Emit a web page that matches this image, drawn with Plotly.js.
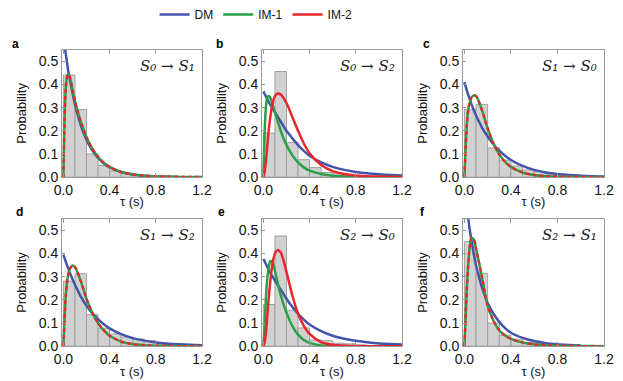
<!DOCTYPE html>
<html><head><meta charset="utf-8">
<script src="https://cdn.plot.ly/plotly-3.0.1.min.js"></script>
<style>html,body{margin:0;padding:0;background:#fff}#chart{width:623px;height:381px}</style>
</head><body><div id="chart"></div>
<script>
// time grid (s) for fitted curves
const tGrid = [0, 0.01, 0.02, 0.03, 0.04, 0.05, 0.06, 0.08, 0.1, 0.12, 0.15, 0.2, 0.25, 0.3, 0.35, 0.4, 0.5, 0.6, 0.7, 0.8, 0.9, 1.0, 1.1, 1.2];
// histogram bin centres (bin width 0.1 s)
const binCenters = [0.05, 0.15, 0.25, 0.35, 0.45, 0.55, 0.65, 0.75, 0.85, 0.95, 1.05, 1.15];
const xTicks = [0, 0.4, 0.8, 1.2];

// panel a: S0 -> S1
const histA = [0.441, 0.292, 0.10, 0.05, 0.027, 0.017, 0.01, 0.006, 0.004, 0.003, 0.002, 0.001];
const dmA = [0.61, 0.57, 0.535, 0.50, 0.465, 0.437, 0.41, 0.36, 0.313, 0.275, 0.225, 0.161, 0.116, 0.083, 0.059, 0.042, 0.022, 0.011, 0.006, 0.003, 0.0015, 0.0008, null, null];
const imA = [0, 0.25, 0.38, 0.43, 0.443, 0.44, 0.425, 0.375, 0.33, 0.29, 0.24, 0.172, 0.123, 0.087, 0.062, 0.044, 0.022, 0.011, 0.006, 0.003, 0.0015, 0.0008, 0.0004, 0.0002];

// panel b: S0 -> S2
const histB = [0.19, 0.456, 0.15, 0.075, 0.041, 0.02, 0.014, 0.008, 0.005, 0.003, 0.002, 0.001];
const dmB = [0.37, 0.36, 0.35, 0.34, 0.33, 0.32, 0.312, 0.295, 0.28, 0.264, 0.24, 0.20, 0.168, 0.138, 0.113, 0.092, 0.063, 0.044, 0.031, 0.022, 0.016, 0.012, 0.009, 0.007];
const im1B = [0, 0.18, 0.29, 0.335, 0.349, 0.35, 0.342, 0.312, 0.28, 0.248, 0.2, 0.138, 0.095, 0.063, 0.042, 0.028, 0.013, 0.006, 0.003, 0.0015, 0.0007, 0.0003, 0.0001, 0];
const im2B = [0, 0.02, 0.06, 0.11, 0.17, 0.22, 0.26, 0.32, 0.35, 0.36, 0.357, 0.32, 0.26, 0.2, 0.145, 0.103, 0.052, 0.026, 0.013, 0.007, 0.0035, 0.002, 0.001, 0.0005];

// panel c: S1 -> S0
const histC = [0.293, 0.314, 0.126, 0.073, 0.048, 0.031, 0.024, 0.013, 0.008, 0.005, 0.003, 0.002];
const dmC = [0.41, 0.393, 0.376, 0.36, 0.345, 0.33, 0.316, 0.29, 0.266, 0.245, 0.215, 0.175, 0.141, 0.114, 0.092, 0.074, 0.048, 0.031, 0.02, 0.013, 0.009, 0.006, 0.004, 0.003];
const imC = [0, 0.12, 0.22, 0.28, 0.31, 0.33, 0.343, 0.353, 0.35, 0.332, 0.29, 0.21, 0.145, 0.098, 0.066, 0.044, 0.02, 0.009, 0.004, 0.002, 0.001, 0.0005, 0.0002, 0.0001];

// panel d: S1 -> S2
const histD = [0.281, 0.313, 0.136, 0.077, 0.053, 0.039, 0.031, 0.024, 0.015, 0.01, 0.006, 0.004];
const dmD = [0.395, 0.38, 0.366, 0.352, 0.338, 0.325, 0.312, 0.288, 0.265, 0.245, 0.215, 0.175, 0.143, 0.117, 0.095, 0.077, 0.052, 0.035, 0.024, 0.016, 0.011, 0.008, 0.006, 0.004];
const imD = [0, 0.12, 0.215, 0.27, 0.305, 0.325, 0.338, 0.348, 0.342, 0.322, 0.282, 0.205, 0.145, 0.1, 0.068, 0.045, 0.02, 0.009, 0.004, 0.002, 0.001, 0.0005, 0.0002, 0.0001];

// panel e: S2 -> S0
const histE = [0.18, 0.476, 0.155, 0.079, 0.027, 0.024, 0.013, 0.01, 0.005, 0.003, 0.002, 0.001];
const dmE = [0.377, 0.367, 0.357, 0.346, 0.336, 0.326, 0.317, 0.30, 0.283, 0.267, 0.245, 0.205, 0.17, 0.14, 0.115, 0.094, 0.065, 0.045, 0.032, 0.023, 0.017, 0.012, 0.009, 0.007];
const im1E = [0, 0.08, 0.19, 0.27, 0.32, 0.352, 0.368, 0.362, 0.325, 0.282, 0.22, 0.145, 0.088, 0.05, 0.027, 0.014, 0.003, 0.001, 0.0003, 0.0001, 0, 0, 0, 0];
const im2E = [0, 0.015, 0.05, 0.105, 0.17, 0.23, 0.28, 0.36, 0.40, 0.415, 0.405, 0.32, 0.22, 0.14, 0.088, 0.053, 0.018, 0.006, 0.002, 0.001, 0, 0, 0, 0];

// panel f: S2 -> S1
const histF = [0.452, 0.315, 0.10, 0.047, 0.03, 0.017, 0.01, 0.006, 0.004, 0.003, 0.002, 0.001];
const dmF = [0.68, 0.64, 0.60, 0.562, 0.525, 0.49, 0.46, 0.40, 0.35, 0.31, 0.255, 0.186, 0.14, 0.105, 0.078, 0.058, 0.036, 0.022, 0.013, 0.008, 0.005, 0.003, null, null];
const imF = [0, 0.12, 0.24, 0.33, 0.40, 0.445, 0.467, 0.462, 0.42, 0.375, 0.30, 0.175, 0.11, 0.068, 0.046, 0.032, 0.016, 0.008, 0.004, 0.002, 0.001, 0.0006, 0.0003, 0.0001];

const panelLetters = ['a', 'b', 'c', 'd', 'e', 'f'];
const transitionLabels = ['S₀ → S₁', 'S₀ → S₂', 'S₁ → S₀', 'S₁ → S₂', 'S₂ → S₀', 'S₂ → S₁'];

const panels = [
  {hist: histA, dm: dmA, im1: imA, im2: imA, same: true},
  {hist: histB, dm: dmB, im1: im1B, im2: im2B, same: false},
  {hist: histC, dm: dmC, im1: imC, im2: imC, same: true},
  {hist: histD, dm: dmD, im1: imD, im2: imD, same: true},
  {hist: histE, dm: dmE, im1: im1E, im2: im2E, same: false},
  {hist: histF, dm: dmF, im1: imF, im2: imF, same: true}
];

const W = 623, H = 381;
const colPx = [[62, 202], [262, 402], [463, 604]];
const rowPx = [[48, 176], [218, 346]];
const letterPx = [[15, 42], [219, 42], [426, 42], [19, 211], [221, 211], [423, 211]];
const legendPanel = 1; // a panel whose IM-2 line is solid

const C_DM = '#4454aa', C_IM1 = '#29a047', C_IM2 = '#e8262b';
const tickFont = {family: 'Liberation Sans, Arial, sans-serif', size: 14, color: '#111'};
const titleFont = {family: 'Liberation Sans, Arial, sans-serif', size: 13, color: '#111'};

const traces = [];
const layout = {
  width: W, height: H,
  margin: {l: 0, r: 0, t: 0, b: 0},
  paper_bgcolor: '#fff', plot_bgcolor: '#fff',
  showlegend: true,
  legend: {orientation: 'h', x: 0.411, xanchor: 'center', y: 1.005, yanchor: 'top',
           font: {family: 'Liberation Sans, Arial, sans-serif', size: 12, color: '#111'},
           bgcolor: 'rgba(0,0,0,0)'},
  annotations: [],
  bargap: 0
};

panels.forEach((p, i) => {
  const n = i + 1;
  const xa = n === 1 ? 'x' : 'x' + n;
  const ya = n === 1 ? 'y' : 'y' + n;
  const col = i % 3, row = Math.floor(i / 3);
  const cp = colPx[col], rp = rowPx[row];
  const inLegend = i === legendPanel;

  traces.push({type: 'bar', x: binCenters, y: p.hist, width: 0.1, xaxis: xa, yaxis: ya,
    marker: {color: '#d1d1d1', line: {color: '#a0a0a0', width: 1}}, showlegend: false, hoverinfo: 'skip'});
  traces.push({type: 'scatter', mode: 'lines', x: tGrid, y: p.dm, xaxis: xa, yaxis: ya, name: 'DM',
    line: {color: C_DM, width: 2.5, shape: 'spline', smoothing: 0.8}, showlegend: inLegend});
  traces.push({type: 'scatter', mode: 'lines', x: tGrid, y: p.im1, xaxis: xa, yaxis: ya, name: 'IM-1',
    line: {color: C_IM1, width: 2.5, shape: 'spline', smoothing: 0.8}, showlegend: inLegend});
  traces.push({type: 'scatter', mode: 'lines', x: tGrid, y: p.im2, xaxis: xa, yaxis: ya, name: 'IM-2',
    line: {color: C_IM2, width: p.same ? 2.3 : 2.5, shape: 'spline', smoothing: 0.8, dash: p.same ? '4px,3px' : 'solid'},
    showlegend: inLegend});

  const xKey = n === 1 ? 'xaxis' : 'xaxis' + n;
  const yKey = n === 1 ? 'yaxis' : 'yaxis' + n;
  layout[xKey] = {
    domain: [cp[0] / W, cp[1] / W], anchor: ya, range: [-0.012, 1.2],
    tickvals: xTicks, tickformat: '.1f', ticks: 'inside', ticklen: 4, tickcolor: '#999',
    showline: true, linecolor: '#999', linewidth: 1, mirror: 'ticks',
    showgrid: false, zeroline: false, tickfont: tickFont,
    title: {text: 'τ (s)', font: titleFont, standoff: 0}
  };
  layout[yKey] = {
    domain: [1 - rp[1] / H, 1 - rp[0] / H], anchor: xa, range: [0, 0.55],
    dtick: 0.1, tickformat: '.1f', ticks: 'inside', ticklen: 3, tickcolor: '#999',
    showline: true, linecolor: '#999', linewidth: 1, mirror: true,
    showgrid: false, zeroline: false, tickfont: tickFont,
    title: {text: 'Probability', font: titleFont, standoff: 9}
  };

  layout.annotations.push({
    xref: 'paper', yref: 'paper', x: letterPx[i][0] / W, y: 1 - letterPx[i][1] / H,
    xanchor: 'center', yanchor: 'middle', showarrow: false,
    text: panelLetters[i],
    font: {family: 'Liberation Sans, Arial, sans-serif', size: 12, color: '#000', weight: 'bold'}
  });
  layout.annotations.push({
    xref: xa + ' domain', yref: ya + ' domain', x: 0.965, y: 0.875,
    xanchor: 'right', yanchor: 'middle', showarrow: false,
    text: transitionLabels[i],
    font: {family: 'DejaVu Serif, serif', size: 15, color: '#222', style: 'italic'}
  });
});

Plotly.newPlot('chart', traces, layout, {staticPlot: true, displayModeBar: false});
</script>
</body></html>
